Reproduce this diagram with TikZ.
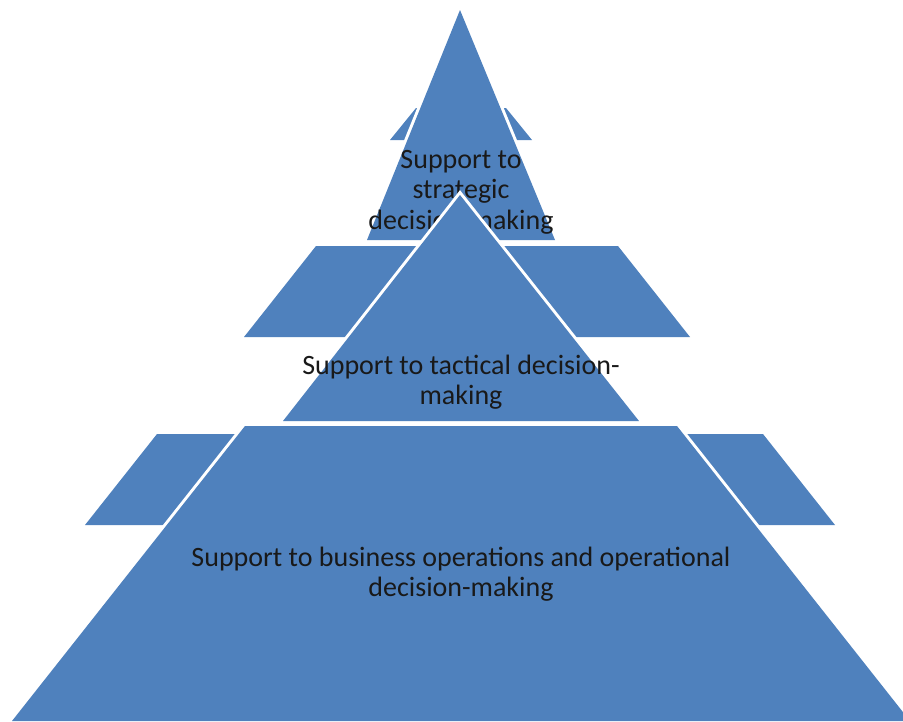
\documentclass[tikz,border=0pt]{standalone}
\usepackage{fontspec}
\setmainfont{Carlito}
\definecolor{levelblue}{RGB}{79,129,189}

\begin{document}
\begin{tikzpicture}[x=1pt,y=-1pt,
    level/.style={fill=levelblue,preaction={draw=white,line width=6pt,line join=miter}},
    wing/.style={fill=levelblue},
    lbl/.style={font=\fontsize{28}{30.5}\selectfont,align=center,text=black!90,inner sep=0pt}
]
  \useasboundingbox (0,0) rectangle (903,721);
  \clip (0,0) rectangle (903,721);

  % Top level
  \path[wing] (390,140) -- (416,108) -- (506,108) -- (532,140) -- cycle;
  \path[level] (460,10) -- (555,240) -- (367,240) -- cycle;
  \node[lbl] (strat) at (461,192) {Support to\\strategic\\decision-making};

  % Middle level
  \path[level] (316,246) -- (618,246) -- (690,337) -- (244,337) -- cycle;
  \path[level] (460,195) -- (639,421) -- (283,421) -- cycle;
  \node[lbl] (tact) at (461,382) {Support to tactical decision-\\making};

  % Bottom level
  \path[wing] (157,434) -- (763,434) -- (835,525) -- (85,525) -- cycle;
  \path[level] (245,426) -- (677,426) -- (910,721) -- (12,721) -- cycle;
  \node[lbl] (oper) at (461,574) {Support to business operations and operational\\decision-making};
\end{tikzpicture}
\end{document}
